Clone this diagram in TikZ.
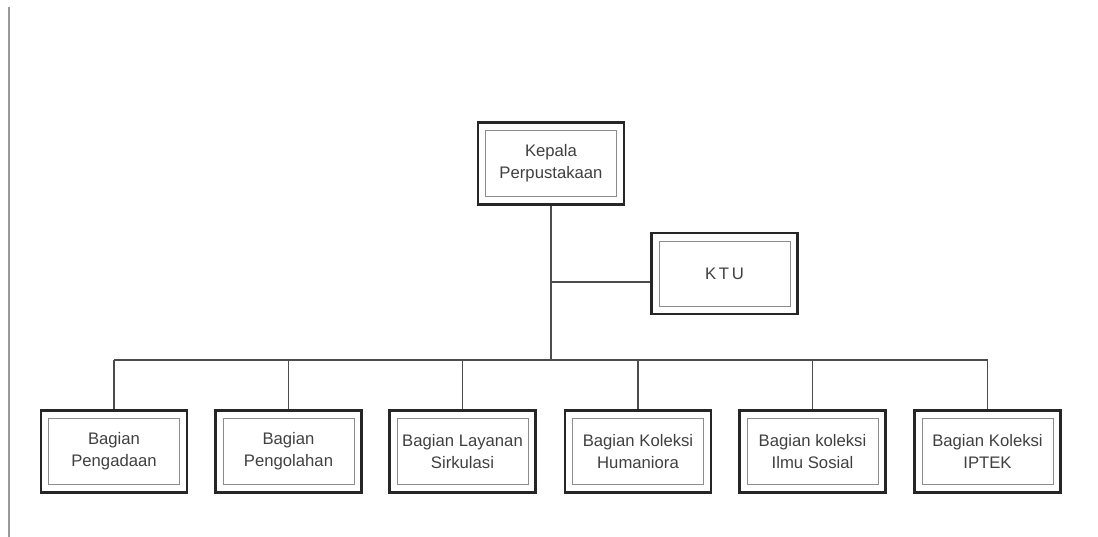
\documentclass[tikz,border=0pt]{standalone}
\usepackage{fontspec}
\setmainfont{Liberation Sans}
\begin{document}
\begin{tikzpicture}[
    unit/.style={draw=black!85, line width=1.4pt, minimum width=2.92cm, minimum height=1.64cm,
        align=center, font=\fontsize{9.5}{12.5}\selectfont, text=black!75,
        path picture={\draw[black!45, line width=0.5pt]
            ([shift={(0.15cm,-0.16cm)}]path picture bounding box.north west) rectangle
            ([shift={(-0.15cm,0.16cm)}]path picture bounding box.south east);}},
    link/.style={black!70, line width=0.6pt}
]
\useasboundingbox (0,0) rectangle (21.96,-10.74);

% Garis tepi kiri
\draw[black!40, line width=0.8pt] (0.18,-0.14) -- (0.18,-10.74);

% Pimpinan
\node[unit] (kepala) at (11.02,-3.27) {Kepala\\Perpustakaan};
\node[unit, minimum height=1.62cm] (ktu) at (14.49,-5.47) {K\,T\,U};

% Bagian-bagian
\foreach \x/\n/\t in {2.28/b1/{Bagian\\Pengadaan},
                      5.77/b2/{Bagian\\Pengolahan},
                      9.25/b3/{Bagian Layanan\\Sirkulasi},
                      12.76/b4/{Bagian Koleksi\\Humaniora},
                      16.25/b5/{Bagian koleksi\\Ilmu Sosial},
                      19.75/b6/{Bagian Koleksi\\IPTEK}} {
    \node[unit] (\n) at (\x,-9.03) {\t};
}

% Garis komando
\coordinate (cabang) at (11.02,-5.64);
\coordinate (bus) at (11.02,-7.2);
\draw[link] (kepala.south) -- (bus);
\draw[link] (cabang) -- (cabang -| ktu.west);
\draw[link] (bus -| b1.north) -- (bus -| b6.north);
\foreach \n in {b1,b2,b3,b4,b5,b6} {
    \draw[link] (bus -| \n.north) -- (\n.north);
}

\end{tikzpicture}
\end{document}
